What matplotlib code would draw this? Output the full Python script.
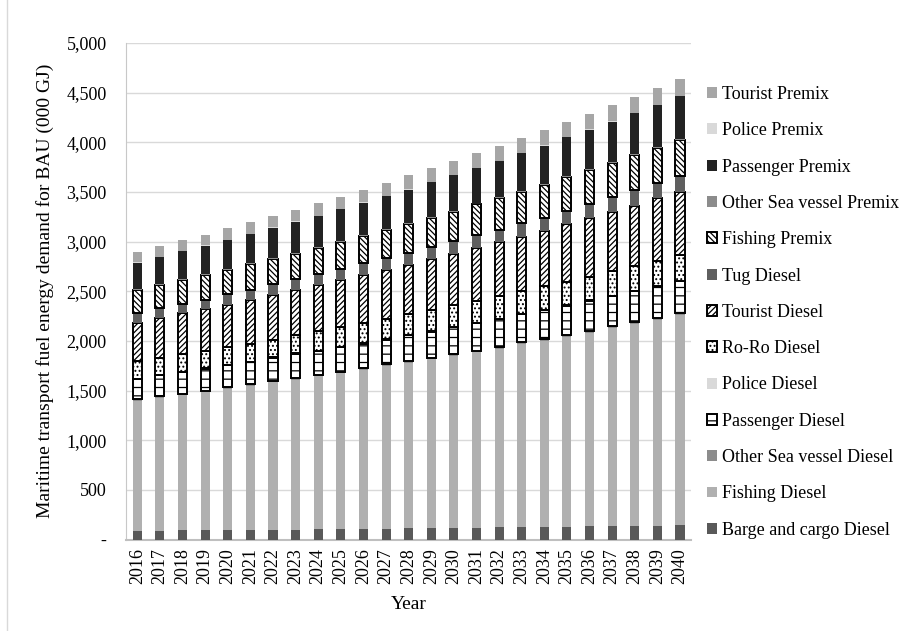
import numpy as np
import matplotlib
matplotlib.use("Agg")
import matplotlib.pyplot as plt
from matplotlib.ticker import MultipleLocator, FuncFormatter
from matplotlib.patches import Patch
from matplotlib.lines import Line2D

plt.rcParams['font.family'] = ['Liberation Serif', 'DejaVu Serif']
plt.rcParams['hatch.linewidth'] = 0.9

years = list(range(2016, 2041))

# values in 000 GJ (bottom of stack first)
barge_diesel = [88, 90, 91, 93, 96, 97, 99, 100, 103, 106, 108, 110, 112, 115, 118, 119, 122, 125, 128, 129, 132, 135, 138, 141, 145]
fishing_diesel = [1309, 1339, 1360, 1392, 1422, 1453, 1484, 1509, 1539, 1566, 1600, 1637, 1668, 1698, 1734, 1766, 1799, 1843, 1875, 1911, 1950, 1990, 2030, 2073, 2111]
osv_diesel = [14, 14, 15, 15, 15, 15, 16, 16, 16, 16, 17, 17, 17, 17, 18, 18, 18, 18, 19, 19, 19, 20, 20, 20, 21]
passenger_diesel = [204, 212, 216, 221, 221, 223, 231, 245, 239, 248, 248, 248, 258, 261, 268, 275, 278, 284, 288, 294, 302, 307, 314, 314, 324]
police_diesel = [4, 4, 4, 4, 4, 4, 4, 4, 4, 4, 4, 4, 4, 4, 4, 4, 4, 4, 4, 4, 4, 4, 4, 4, 4]
roro_diesel = [178, 171, 177, 172, 181, 180, 178, 181, 194, 198, 201, 205, 208, 215, 217, 221, 231, 224, 234, 240, 240, 244, 250, 254, 260]
tourist_diesel = [387, 404, 414, 419, 427, 444, 447, 460, 470, 476, 486, 492, 499, 512, 520, 529, 542, 549, 562, 579, 589, 602, 605, 629, 635]
tug_diesel = [100, 92, 92, 100, 102, 99, 109, 109, 109, 109, 115, 119, 123, 122, 125, 132, 126, 139, 132, 136, 142, 142, 156, 154, 156]
fishing_premix = [231, 238, 245, 251, 248, 258, 261, 255, 264, 271, 275, 282, 291, 298, 298, 311, 321, 314, 331, 337, 344, 348, 354, 357, 367]
osv_premix = [8, 8, 8, 8, 8, 8, 8, 8, 8, 8, 8, 8, 8, 8, 8, 8, 8, 8, 8, 8, 8, 8, 8, 8, 8]
passenger_premix = [264, 270, 280, 283, 287, 293, 303, 313, 313, 323, 329, 332, 336, 346, 359, 356, 363, 380, 386, 393, 396, 408, 412, 420, 432]
police_premix = [3, 3, 3, 3, 3, 3, 3, 3, 3, 3, 3, 3, 3, 3, 3, 3, 3, 3, 3, 3, 3, 3, 3, 3, 3]
tourist_premix = [109, 109, 109, 109, 123, 119, 116, 115, 123, 123, 129, 136, 139, 139, 136, 145, 148, 148, 152, 148, 159, 159, 165, 172, 169]

# (label, data, facecolor, hatch)
series = [
	("Barge and cargo Diesel", barge_diesel, "#595959", None),
	("Fishing Diesel", fishing_diesel, "#b0b0b0", None),
	("Other Sea vessel Diesel", osv_diesel, "#8c8c8c", None),
	("Passenger Diesel", passenger_diesel, "white", "--"),
	("Police Diesel", police_diesel, "#d9d9d9", None),
	("Ro-Ro Diesel", roro_diesel, "white", "...."),
	("Tourist Diesel", tourist_diesel, "white", "//////"),
	("Tug Diesel", tug_diesel, "#5f5f5f", None),
	("Fishing Premix", fishing_premix, "white", "\\\\\\\\\\\\"),
	("Other Sea vessel Premix", osv_premix, "#8c8c8c", None),
	("Passenger Premix", passenger_premix, "#222222", None),
	("Police Premix", police_premix, "#d9d9d9", None),
	("Tourist Premix", tourist_premix, "#a6a6a6", None),
]

fig = plt.figure(figsize=(9.17, 6.31), dpi=100)
ax = fig.add_axes([0.1374, 0.145, 0.6165, 0.787])

x = np.arange(len(years))
bottom = np.zeros(len(years))
handles = []
for name, data, color, hatch in series:
	vals = np.array(data, dtype=float)
	if hatch:
		ax.bar(x, vals, 0.4, bottom=bottom, color=color, edgecolor="black",
			hatch=hatch, linewidth=1.4, zorder=3)
		handles.append(Patch(facecolor=color, edgecolor="black", hatch=hatch, linewidth=1.4, label=name))
	else:
		ax.bar(x, vals, 0.4, bottom=bottom, color=color, linewidth=0, zorder=3)
		handles.append(Patch(facecolor=color, edgecolor="none", label=name))
	bottom = bottom + vals

ax.set_xlim(-0.5, len(years) - 0.5)
ax.set_ylim(0, 5000)
ax.yaxis.set_major_locator(MultipleLocator(500))
ax.yaxis.set_major_formatter(FuncFormatter(lambda v, p: "-" if v == 0 else "{:,.0f}".format(v)))
ax.set_xticks(x)
ax.set_xticklabels([str(y) for y in years], rotation=90, fontsize=13)
for label in ax.yaxis.get_ticklabels():
	label.set_fontsize(13)
ax.tick_params(axis="both", length=0)
ax.tick_params(axis="y", pad=14)
ax.tick_params(axis="x", pad=6)

ax.grid(axis="y", color="#d9d9d9", linewidth=1.0, zorder=0)
ax.set_axisbelow(True)
ax.spines["top"].set_visible(False)
ax.spines["right"].set_visible(False)
ax.spines["left"].set_color("#c8c8c8")
ax.spines["bottom"].set_color("#bfbfbf")
ax.spines["bottom"].set_linewidth(1.5)

ax.set_xlabel("Year", fontsize=14, labelpad=9)
ax.set_ylabel("Maritime transport fuel energy demand for BAU (000 GJ)", fontsize=14, labelpad=9)

leg = fig.legend(handles=handles[::-1], loc="center left", bbox_to_anchor=(0.753, 0.505),
	frameon=False, fontsize=13, handlelength=0.55, handleheight=0.55,
	handletextpad=0.3, labelspacing=1.07)

# chart border line on the left
fig.add_artist(Line2D([7 / 917, 7 / 917], [0, 1], color="#d9d9d9", linewidth=1, transform=fig.transFigure))

plt.savefig("out.png", dpi=100)
